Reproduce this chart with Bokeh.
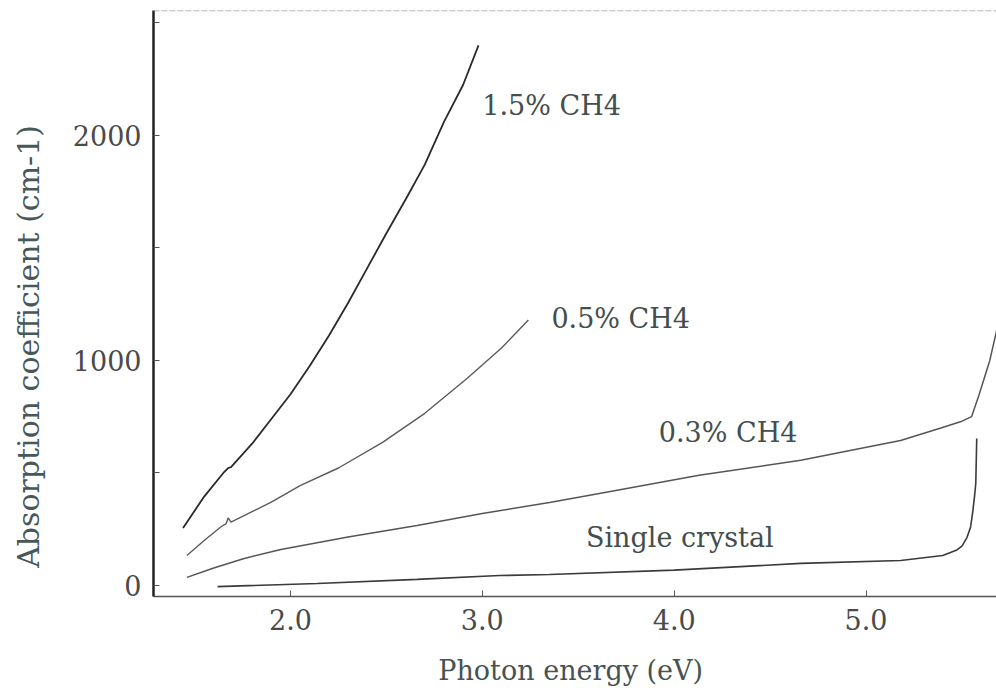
from bokeh.plotting import figure
from bokeh.models import Range1d, FixedTicker, Span, Label, NumeralTickFormatter
from bokeh.embed import file_html
from bokeh.resources import INLINE

# ---- data ----
x_15 = [1.44, 1.55, 1.65, 1.675, 1.69, 1.80, 1.90, 2.00, 2.10, 2.20, 2.30, 2.40, 2.50, 2.60, 2.70, 2.80, 2.90, 2.98]
y_15 = [255, 395, 500, 522, 526, 630, 740, 850, 975, 1110, 1255, 1410, 1565, 1715, 1870, 2060, 2225, 2400]

x_05 = [1.46, 1.55, 1.64, 1.665, 1.675, 1.69, 1.80, 1.90, 2.05, 2.25, 2.48, 2.70, 2.92, 3.10, 3.24]
y_05 = [133, 200, 262, 275, 300, 282, 328, 370, 444, 522, 636, 765, 920, 1055, 1180]

x_03 = [1.46, 1.60, 1.75, 1.95, 2.30, 2.66, 3.00, 3.35, 3.61, 4.13, 4.66, 5.18, 5.39, 5.50, 5.55, 5.59, 5.645, 5.68, 5.72]
y_03 = [36, 78, 118, 160, 215, 267, 320, 369, 409, 490, 556, 644, 700, 730, 750, 850, 1000, 1130, 1300]

x_sc = [1.62, 2.14, 2.66, 3.09, 3.35, 4.00, 4.66, 5.18, 5.40, 5.47, 5.50, 5.526, 5.545, 5.557, 5.566, 5.572, 5.577]
y_sc = [-5, 9, 27, 44, 49, 68, 98, 111, 133, 156, 175, 213, 260, 333, 400, 453, 653]

series_labels = ["1.5%  CH4", "0.5%  CH4", "0.3%  CH4", "Single crystal"]
label_x = [3.00, 3.36, 3.92, 3.54]
label_y = [2133, 1187, 680, 213]

x_ticks = [2.0, 3.0, 4.0, 5.0]
y_ticks = [0, 1000, 2000]
y_minor = [500, 1500, 2500]

FONT = "DejaVu Serif"
TXT = "#4a4a4a"

p = figure(width=996, height=698, output_backend="svg", toolbar_location=None,
           x_range=Range1d(1.286, 5.68), y_range=Range1d(-49, 2555),
           min_border_left=153, min_border_right=0, min_border_top=10, min_border_bottom=102)
p.outline_line_color = None
p.grid.visible = False
p.background_fill_color = "white"

# x axis
xa = p.xaxis[0]
xa.ticker = FixedTicker(ticks=x_ticks)
xa.formatter = NumeralTickFormatter(format="0.0")
xa.major_tick_in = 6
xa.major_tick_out = 0
xa.minor_tick_line_color = None
xa.axis_line_color = "#555555"
xa.axis_line_width = 1.5
xa.major_tick_line_color = "#555555"
xa.major_label_text_font = FONT
xa.major_label_text_font_size = "27px"
xa.major_label_text_color = TXT
xa.major_label_standoff = 12
xa.axis_label = "Photon energy  (eV)"
xa.axis_label_text_font = FONT
xa.axis_label_text_font_size = "27px"
xa.axis_label_text_font_style = "normal"
xa.axis_label_text_color = "#475252"
xa.axis_label_standoff = 22

# y axis (title sits lower than the frame centre in the original; trailing
# no-break spaces shift the centred title downwards)
ya = p.yaxis[0]
ya.ticker = FixedTicker(ticks=y_ticks, minor_ticks=y_minor)
ya.major_tick_in = 6
ya.major_tick_out = 0
ya.minor_tick_in = 6
ya.minor_tick_out = 0
ya.axis_line_color = "#222222"
ya.axis_line_width = 2.5
ya.major_tick_line_color = "#555555"
ya.minor_tick_line_color = "#555555"
ya.major_label_text_font = FONT
ya.major_label_text_font_size = "27px"
ya.major_label_text_color = TXT
ya.major_label_standoff = 12
ya.axis_label = "Absorption coefficient  (cm-1)" + "\u00a0" * 8
ya.axis_label_text_font = FONT
ya.axis_label_text_font_size = "30px"
ya.axis_label_text_font_style = "normal"
ya.axis_label_text_color = "#475858"
ya.axis_label_standoff = 24

# faint top border of the scanned frame
p.add_layout(Span(location=2555, dimension="width", line_color="#9a9a9a", line_width=1.5, line_dash="6 2"))

# curves
p.line(x_15, y_15, line_color="#2a2a2a", line_width=1.8)
p.line(x_05, y_05, line_color="#5a5a5a", line_width=1.4)
p.line(x_03, y_03, line_color="#555555", line_width=1.5)
p.line(x_sc, y_sc, line_color="#3a3a3a", line_width=1.6)

# series labels
for t, lx, ly in zip(series_labels, label_x, label_y):
    p.add_layout(Label(x=lx, y=ly, text=t, text_font=FONT, text_font_size="27px",
                       text_color="#434e4e", text_baseline="middle", text_align="left"))

open("out.html", "w").write(file_html(p, INLINE))
